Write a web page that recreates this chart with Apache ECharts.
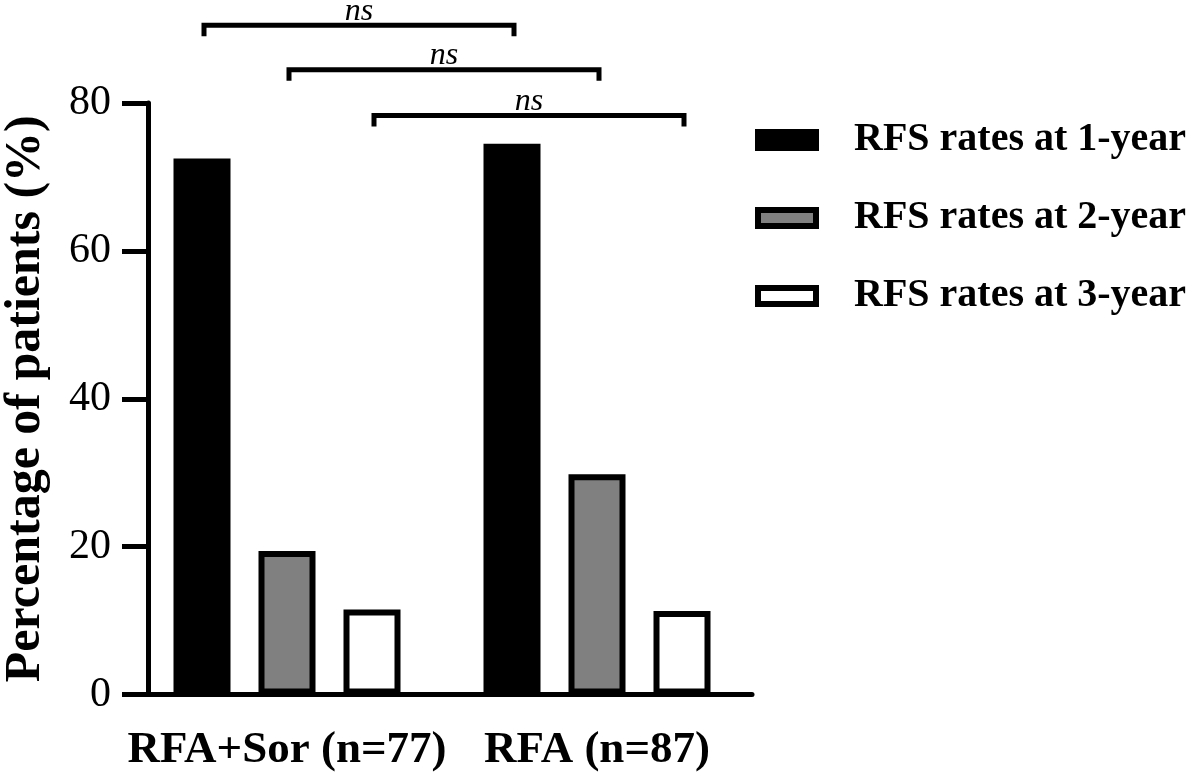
<!DOCTYPE html>
<html><head><meta charset="utf-8">
<script src="https://cdn.jsdelivr.net/npm/echarts@6/dist/echarts.min.js"></script>
<style>html,body{margin:0;padding:0;background:#fff}#c{width:1197px;height:781px}</style>
</head><body><div id="c"></div>
<script>
const categories = ['RFA+Sor (n=77)', 'RFA (n=87)'];
const seriesNames = ['RFS rates at 1-year', 'RFS rates at 2-year', 'RFS rates at 3-year'];
const rfs1 = [72.5, 74.5];
const rfs2 = [19.4, 29.8];
const rfs3 = [11.5, 11.3];
const yMin = 0, yMax = 80, yStep = 20;
const bracketLevels = [90.5, 84.5, 78.3];
const bracketLabels = ['ns', 'ns', 'ns'];

const FONT = 'Liberation Serif';
const BAR_W = 57, GAP_RATIO = 28 / 57;
const fills = ['#000000', '#808080', '#ffffff'];
const values = [rfs1, rfs2, rfs3];

const chart = echarts.init(document.getElementById('c'), null, {renderer: 'canvas'});

const barSeries = seriesNames.map((n, i) => ({
  name: n,
  type: 'bar',
  data: values[i],
  barWidth: BAR_W,
  barGap: (GAP_RATIO * 100) + '%',
  itemStyle: {color: fills[i], borderColor: '#000', borderWidth: 6},
  emphasis: {disabled: true}
}));

const bracketSeries = {
  type: 'custom',
  clip: false,
  silent: true,
  z: 5,
  data: bracketLevels.map((lv, i) => [0, lv, i]),
  renderItem: function (params, api) {
    const i = api.value(2);
    const lv = api.value(1);
    const off = (i - 1) * BAR_W * (1 + GAP_RATIO);
    const p0 = api.coord([0, lv]);
    const p1 = api.coord([1, lv]);
    const x0 = p0[0] + off + 2, x1 = p1[0] + off + 2, y = p0[1];
    const leg = 11;
    const st = {stroke: '#000', lineWidth: 5, fill: null, lineJoin: 'miter', lineCap: 'butt'};
    return {
      type: 'group',
      children: [
        {type: 'polyline', shape: {points: [[x0, y + leg], [x0, y], [x1, y], [x1, y + leg]]}, style: st},
        {type: 'text', x: (x0 + x1) / 2, y: y - 14,
         style: {text: bracketLabels[i], fontFamily: FONT, fontStyle: 'italic', fontSize: 32,
                 fill: '#000', align: 'center', verticalAlign: 'middle'}}
      ]
    };
  }
};

chart.setOption({
  animation: false,
  backgroundColor: '#fff',
  grid: {left: 132, width: 620, top: 103, bottom: 86.5, containLabel: false, outerBoundsMode: 'none'},
  legend: {
    data: seriesNames,
    orient: 'vertical',
    left: 755,
    top: 120,
    padding: 0,
    itemWidth: 58,
    itemHeight: 16,
    itemGap: 38,
    icon: 'rect',
    itemStyle: {borderWidth: 6, borderColor: '#000'},
    textStyle: {fontFamily: FONT, fontWeight: 'bold', fontSize: 40, color: '#000', lineHeight: 40, padding: [0, 0, 0, 33]},
    selectedMode: false
  },
  xAxis: {
    type: 'category',
    data: categories,
    axisLine: {lineStyle: {color: '#000', width: 5}},
    axisTick: {show: false},
    axisLabel: {interval: 0, fontFamily: FONT, fontWeight: 'bold', fontSize: 45, color: '#000', margin: 33}
  },
  yAxis: {
    type: 'value',
    min: yMin, max: yMax, interval: yStep,
    offset: -16,
    name: 'Percentage of patients (%)',
    nameLocation: 'middle',
    nameGap: 97,
    nameTextStyle: {fontFamily: FONT, fontWeight: 'bold', fontSize: 50, color: '#000'},
    axisLine: {show: true, lineStyle: {color: '#000', width: 5}},
    axisTick: {show: true, length: 26, lineStyle: {color: '#000', width: 5}},
    axisLabel: {fontFamily: FONT, fontSize: 42, color: '#000', margin: 37},
    splitLine: {show: false}
  },
  series: barSeries.concat([bracketSeries])
});
</script>
</body></html>
